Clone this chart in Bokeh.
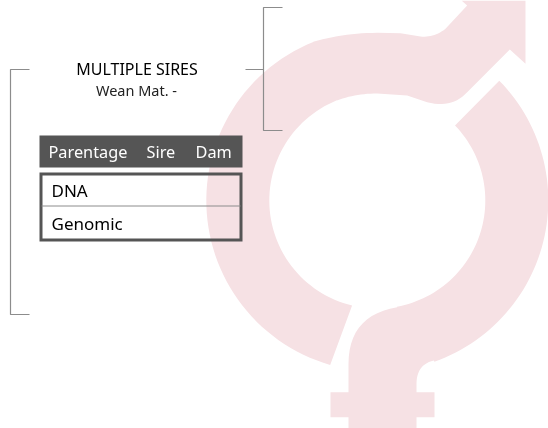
import numpy as np
from bokeh.core.properties import value
from bokeh.embed import file_html
from bokeh.models import Range1d
from bokeh.plotting import figure
from bokeh.resources import INLINE

FONT = "Noto Sans"
title = "MULTIPLE SIRES"
subtitle = "Wean Mat. -"
header_labels = ["Parentage", "Sire", "Dam"]
row_labels = ["DNA", "Genomic"]

# symbol: ring centre and radii, page pixels
cx, cy, r_out, r_in = 376.8, 200.0, 171.0, 108.0

def arc(r, a0, a1, n=60):
    t = np.radians(np.linspace(a0, a1, n))
    return cx + r * np.cos(t), cy - r * np.sin(t)

def z(points):
    a = np.array(points, dtype=float)
    return 200 + a[:, 0] / 3, a[:, 1] / 3

def bez(p0, p1, p2, n=14):
    t = np.linspace(0, 1, n)[:, None]
    p0, p1, p2 = map(np.array, (p0, p1, p2))
    return ((1-t)**2 * p0 + 2*t*(1-t) * p1 + t**2 * p2).tolist()

male_top = (bez([338, 124], [430, 97], [530, 97]) + [[600, 98], [660, 108]] + bez([660, 108], [700, 112], [735, 85])
            + [[800, 15], [783, 0], [975, 0], [975, 190], [928, 147], [800, 275]]
            + bez([800, 275], [755, 325], [680, 305]) + [[620, 285], [530, 279]]
            + bez([530, 279], [465, 279], [409, 300]))

ax, ay = arc(r_out, 254, 112)
bx, by = z(male_top)
dx, dy = arc(r_in, 112, 256.5)
male_x = np.concatenate([ax, bx, dx]); male_y = np.concatenate([ay, by, dy])

female_tail = (bez([700, 1080], [648, 1092], [648, 1150])
               + [[648, 1175], [702, 1175], [702, 1250], [648, 1250], [648, 1284], [444, 1284],
                  [444, 1250], [390, 1250], [390, 1175], [444, 1175], [444, 1090]]
               + bez([444, 1090], [444, 945], [590, 920]))
ex, ey = arc(r_out, 44.5, -70.5)
fx, fy = z(female_tail)
gx, gy = arc(r_in, -79.5, 44)
female_x = np.concatenate([ex, fx, gx]); female_y = np.concatenate([ey, fy, gy])

p = figure(width=548, height=428, output_backend="svg", toolbar_location=None,
           x_range=Range1d(0, 548), y_range=Range1d(428, 0), min_border=0,
           outline_line_color=None, background_fill_color="white",
           border_fill_color="white", x_axis_type=None, y_axis_type=None)
p.grid.visible = False
p.styles = {"position": "fixed", "left": "0", "top": "0"}

PINK = "#f6e1e4"
p.patch(male_x, male_y, fill_color=PINK, line_color=None)
p.patch(female_x, female_y, fill_color=PINK, line_color=None)

GREY = "#8c8c8c"
p.line([29, 10, 10, 29], [69, 69, 314, 314], line_color=GREY, line_width=1.2)
p.line([245, 263], [69, 69], line_color=GREY, line_width=1.2)
p.line([282, 263, 263, 282], [7, 7, 130, 130], line_color=GREY, line_width=1.2)

DARK = "#555555"
p.quad(left=[39], right=[242], top=[135], bottom=[167], fill_color=DARK, line_color=None)
p.quad(left=[40.5], right=[240.5], top=[173.5], bottom=[239.5], fill_color=None, line_color=DARK,
       line_width=3, line_join="miter")
p.line([41, 240], [205.5, 205.5], line_color=GREY, line_width=1)

p.text([136.5], [68.5], text=[title], text_font=value(FONT), text_font_size="16px",
       text_color="#000000", text_align="center", text_baseline="middle")
p.text([136], [89.5], text=[subtitle], text_font=value(FONT), text_font_size="14.5px",
       text_color="#222222", text_align="center", text_baseline="middle")
p.text([48, 146, 195], [151.5, 151.5, 151.5], text=header_labels, text_font=value(FONT), text_font_size="16.3px",
       text_color="white", text_align="left", text_baseline="middle")
p.text([51, 51], [189.5, 222.5], text=row_labels, text_font=value(FONT), text_font_size="17px",
       text_color="#000000", text_align="left", text_baseline="middle")

open("out.html", "w").write(file_html(p, INLINE))
